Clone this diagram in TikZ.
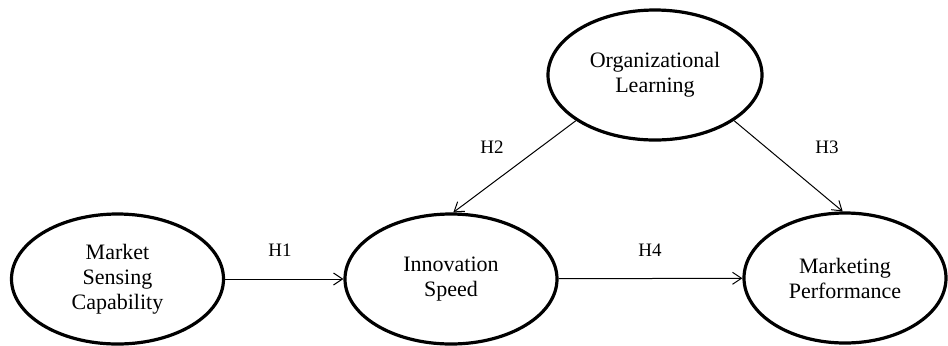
\documentclass[tikz,border=0pt]{standalone}
\usepackage{fontspec}
\setmainfont{Liberation Serif}
\usetikzlibrary{positioning,arrows.meta,shapes.geometric}
\tikzset{
  mkconstruto/.style={draw=black, ellipse, line width=1.6pt, align=center, inner sep=0pt,
                  font=\fontsize{11}{12.5}\selectfont, minimum width=106pt, minimum height=65pt},
  mkseta/.style={-{Straight Barb[length=4.5pt,width=6pt]}, line width=0.5pt},
  mkrotulo/.style={font=\fontsize{9.5}{10}\selectfont, inner sep=0pt},
}
\begin{document}
\begin{tikzpicture}[x=0.5pt, y=-0.5pt]
            \useasboundingbox (0,0) rectangle (948,345);
            \node[mkconstruto] (msc) at (117.5,279) {Market\\Sensing\\Capability};
            \node[mkconstruto] (ins) at (451,279) {Innovation\\Speed};
            \node[mkconstruto, minimum width=101pt] (mp) at (845,278) {Marketing\\Performance};
            \node[mkconstruto, minimum width=107pt] (ol) at (655,75) {Organizational\\Learning};
            \draw[mkseta] (msc) -- (ins);
            \draw[mkseta] (ins) -- (mp);
            \draw[mkseta] (ol.210) -- (ins.88);
            \draw[mkseta] (ol.330) -- (mp.92);
            \node[mkrotulo] at (280,250) {H1};
            \node[mkrotulo] at (492,147) {H2};
            \node[mkrotulo] at (827,147) {H3};
            \node[mkrotulo] at (650,250) {H4};
        \end{tikzpicture}
\end{document}
